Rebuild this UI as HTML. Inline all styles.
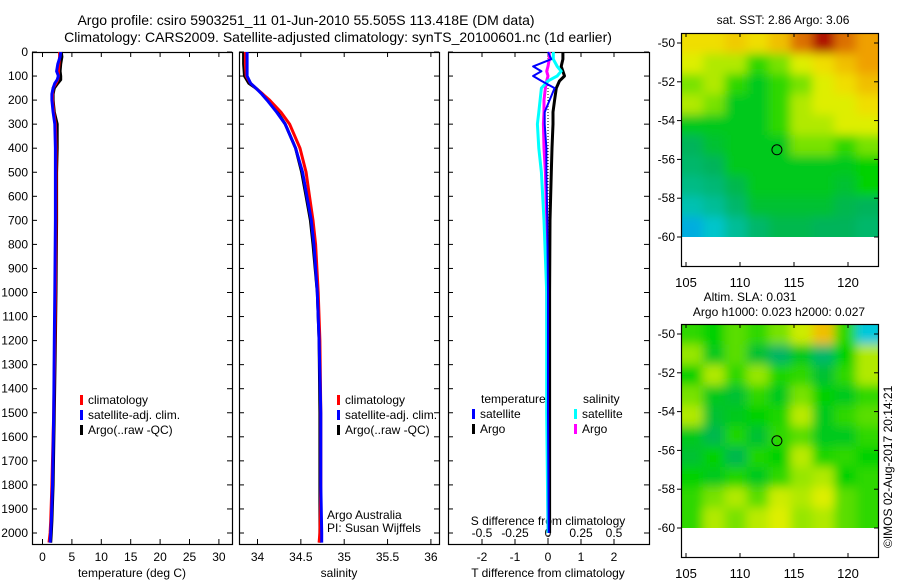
<!DOCTYPE html>
<html><head><meta charset="utf-8"><style>
html,body{margin:0;padding:0;background:#fff;}
svg{display:block;font-family:"Liberation Sans",sans-serif;}
</style></head><body>
<svg id="fig" width="900" height="580" viewBox="0 0 900 580">
<text x="306" y="25" font-size="14" text-anchor="middle">Argo profile: csiro 5903251_11 01-Jun-2010 55.505S 113.418E (DM data)</text>
<text x="338" y="42" font-size="14" text-anchor="middle">Climatology: CARS2009. Satellite-adjusted climatology: synTS_20100601.nc (1d earlier)</text>
<g id="p1"></g>
<g id="p2"></g>
<g id="p3"></g>
<g id="m1"></g>
<g id="m2"></g>
<text x="0" y="0" font-size="12" transform="translate(892,548) rotate(-90)">©IMOS 02-Aug-2017 20:14:21</text>
</svg>
<script>
// ---- data ----
const depthTicks=[0,100,200,300,400,500,600,700,800,900,1000,1100,1200,1300,1400,1500,1600,1700,1800,1900,2000];
const tempTicks=[0,5,10,15,20,25,30];
const salTicks=[34,34.5,35,35.5,36];
const dTTicks=[-2,-1,0,1,2];
const dSTicks=[-0.5,-0.25,0,0.25,0.5];
const tDepths=[0,20,50,80,100,115,130,150,175,200,250,300,400,500,700,1000,1200,1500,1800,1950,2000,2040];
const argoT=[3.2,3.3,3.1,3.0,3.1,3.1,2.6,2.0,1.8,1.8,2.0,2.5,2.5,2.4,2.4,2.3,2.2,2.0,1.8,1.6,1.5,1.4];
const climT=[2.9,2.9,2.8,2.7,2.7,2.6,2.3,1.8,1.7,1.7,1.9,2.2,2.3,2.3,2.3,2.2,2.1,1.9,1.6,1.4,1.3,1.1];
const satT=[3.1,3.0,2.6,2.4,2.7,2.5,2.1,1.8,1.6,1.6,1.8,2.1,2.2,2.2,2.2,2.1,2.0,1.9,1.7,1.5,1.4,1.3];
const sDepths=[0,50,100,130,150,175,200,250,300,400,500,600,700,800,1000,1200,1500,1800,2000,2040];
const argoS=[33.84,33.84,33.85,33.90,33.98,34.06,34.12,34.23,34.32,34.44,34.51,34.56,34.61,34.64,34.69,34.71,34.72,34.72,34.72,34.72];
const climS=[33.86,33.86,33.87,33.92,33.98,34.06,34.14,34.27,34.37,34.49,34.56,34.60,34.64,34.67,34.70,34.72,34.73,34.73,34.72,34.71];
const satS=[33.88,33.88,33.88,33.92,33.98,34.05,34.11,34.22,34.32,34.44,34.52,34.57,34.62,34.65,34.69,34.71,34.73,34.73,34.74,34.74];
const dDepths=[0,30,60,80,100,120,150,200,250,300,400,500,700,1000,1500,2000];
const dTargo=[0.45,0.45,0.4,0.45,0.5,0.35,0.25,0.2,0.15,0.15,0.12,0.1,0.06,0.05,0.05,0.05];
const dTsat=[0.0,0.1,-0.45,-0.2,-0.45,-0.2,0.2,0.05,-0.1,-0.1,-0.05,-0.05,-0.02,0,0,0.02];
const dSsat=[0.04,0.04,0.07,0.1,0.07,0,-0.05,-0.06,-0.07,-0.08,-0.07,-0.05,-0.03,-0.01,-0.01,0];
const dSargo=[0.01,0.01,0.0,-0.01,0.0,-0.01,-0.02,-0.03,-0.03,-0.035,-0.03,-0.02,-0.01,-0.01,-0.005,0];
const lonTicks=[105,110,115,120];
const latTicks=[-50,-52,-54,-56,-58,-60];
const sstGrid=[
[0.65,0.65,0.68,0.65,0.70,0.80,0.92,0.80,0.75],
[0.60,0.55,0.55,0.45,0.50,0.60,0.65,0.70,0.75],
[0.50,0.55,0.45,0.40,0.45,0.50,0.60,0.65,0.70],
[0.55,0.50,0.40,0.40,0.45,0.55,0.60,0.60,0.65],
[0.40,0.40,0.40,0.40,0.45,0.55,0.55,0.60,0.60],
[0.35,0.38,0.40,0.40,0.40,0.50,0.50,0.45,0.50],
[0.33,0.35,0.40,0.40,0.40,0.40,0.40,0.40,0.42],
[0.30,0.32,0.36,0.40,0.40,0.40,0.40,0.38,0.42],
[0.25,0.28,0.33,0.38,0.38,0.38,0.38,0.36,0.35],
[0.15,0.22,0.28,0.33,0.36,0.36,0.35,0.35,0.33]];
const slaGrid=[
[0.45,0.42,0.48,0.45,0.50,0.58,0.70,0.45,0.20],
[0.52,0.40,0.48,0.38,0.34,0.40,0.33,0.42,0.55],
[0.42,0.55,0.45,0.52,0.44,0.45,0.38,0.45,0.55],
[0.50,0.40,0.38,0.45,0.40,0.50,0.42,0.40,0.45],
[0.55,0.38,0.40,0.42,0.44,0.56,0.40,0.45,0.48],
[0.40,0.36,0.44,0.38,0.45,0.48,0.40,0.40,0.45],
[0.38,0.42,0.36,0.44,0.42,0.56,0.44,0.45,0.42],
[0.42,0.40,0.44,0.40,0.45,0.52,0.55,0.42,0.45],
[0.45,0.50,0.55,0.48,0.58,0.55,0.60,0.48,0.45],
[0.45,0.55,0.50,0.56,0.60,0.52,0.55,0.48,0.45]];
const argoLon=113.418, argoLat=-55.505;
const sstTitle="sat. SST: 2.86 Argo: 3.06";

// ---- helpers ----
const NS="http://www.w3.org/2000/svg";
function mk(parent,tag,attrs){const e=document.createElementNS(NS,tag);for(const k in attrs)e.setAttribute(k,attrs[k]);parent.appendChild(e);return e;}
const Y0=52,Y1=544;
const yD=d=>52+d*0.2405;
function frame(g,x0,x1,y0,y1){const r=mk(g,'rect',{x:x0+0.5,y:y0+0.5,width:x1-x0,height:y1-y0,fill:'none',stroke:'#000','stroke-width':1.2});

}
function line(g,xs,ys,color,w,name,dash){const pts=xs.map((x,i)=>x.toFixed(1)+','+ys[i].toFixed(1)).join(' ');
const p=mk(g,'polyline',{points:pts,fill:'none',stroke:color,'stroke-width':w,'stroke-linejoin':'round'});if(dash)p.setAttribute('stroke-dasharray',dash);

}
function txt(g,x,y,s,anchor,name,size){const t=mk(g,'text',{x:x,y:y,'font-size':size||12,'text-anchor':anchor||'start'});t.textContent=s;

return t;}
function depthTicksOn(g,x0,x1,labels){depthTicks.forEach(d=>{const y=yD(d);mk(g,'line',{x1:x0,x2:x0+5,y1:y,y2:y,stroke:'#000'});mk(g,'line',{x1:x1-5,x2:x1,y1:y,y2:y,stroke:'#000'});
if(labels)txt(g,28,y+4,String(d),'end','depth-tick-label');});}
function xTicks(g,ticks,fx,y0,y1,ly,fmt,name){ticks.forEach(v=>{const x=fx(v);mk(g,'line',{x1:x,x2:x,y1:y1,y2:y1-5,stroke:'#000'});mk(g,'line',{x1:x,x2:x,y1:y0,y2:y0+5,stroke:'#000'});
txt(g,x,ly,fmt?fmt(v):String(v),'middle',name);});}
function legend(g,x,y,items){items.forEach((it,i)=>{const r=mk(g,'rect',{x:x,y:y+i*15-9,width:3,height:10,fill:it[1]});


txt(g,x+8,y+i*15,it[0],'start','legend-entry');});}

// ---- panel 1: temperature ----
const p1=document.getElementById('p1');
const xT=t=>42.5+t*5.88;
frame(p1,32,232,Y0,Y1);depthTicksOn(p1,32,232,true);
xTicks(p1,tempTicks,xT,Y0,Y1,561,null,'temp-tick-label');
txt(p1,132,577,'temperature (deg C)','middle','x-axis-title-temperature');
line(p1,argoT.map(xT),tDepths.map(yD),'#000',3,'argo-temperature-line');
line(p1,climT.map(xT),tDepths.map(yD),'#f00',3,'climatology-temperature-line');
line(p1,satT.map(xT),tDepths.map(yD),'#00f',3,'satellite-temperature-line');
legend(p1,80,404,[['climatology','#f00'],['satellite-adj. clim.','#00f'],['Argo(..raw -QC)','#000']]);

// ---- panel 2: salinity ----
const p2=document.getElementById('p2');
const xS=s=>257.5+(s-34)*86.7;
frame(p2,239,439,Y0,Y1);depthTicksOn(p2,239,439,false);
xTicks(p2,salTicks,xS,Y0,Y1,561,null,'salinity-tick-label');
txt(p2,339,577,'salinity','middle','x-axis-title-salinity');
line(p2,argoS.map(xS),sDepths.map(yD),'#000',3,'argo-salinity-line');
line(p2,climS.map(xS),sDepths.map(yD),'#f00',3,'climatology-salinity-line');
line(p2,satS.map(xS),sDepths.map(yD),'#00f',3,'satellite-salinity-line');
legend(p2,337,404,[['climatology','#f00'],['satellite-adj. clim.','#00f'],['Argo(..raw -QC)','#000']]);
txt(p2,327,519,'Argo Australia','start','credit-argo-australia');
txt(p2,327,532,'PI: Susan Wijffels','start','credit-pi');

// ---- panel 3: differences ----
const p3=document.getElementById('p3');
const xdT=t=>548+t*33;
const xdS=s=>548+s*132;
frame(p3,448,649,Y0,Y1);depthTicksOn(p3,448,649,false);
xTicks(p3,dTTicks,xdT,Y0,Y1,561,null,'tdiff-tick-label');
dSTicks.forEach(v=>txt(p3,xdS(v),537,String(v),'middle','sdiff-tick-label'));
txt(p3,548,525,'S difference from climatology','middle','sdiff-axis-title');
txt(p3,548,577,'T difference from climatology','middle','tdiff-axis-title');
line(p3,[xdT(0),xdT(0)],[yD(0),yD(2040)],'#000',1,'zero-line','1,2');
line(p3,dTargo.map(xdT),dDepths.map(yD),'#000',3,'argo-tdiff-line');
line(p3,dSargo.map(xdS),dDepths.map(yD),'#f0f',3,'argo-sdiff-line');
line(p3,dSsat.map(xdS),dDepths.map(yD),'#0ff',3,'satellite-sdiff-line');
line(p3,dTsat.map(xdT),dDepths.map(yD),'#00f',2,'satellite-tdiff-line');
txt(p3,481,403,'temperature','start','legend-title-temperature');
legend(p3,472,418,[['satellite','#00f'],['Argo','#000']]);
txt(p3,583,403,'salinity','start','legend-title-salinity');
legend(p3,574,418,[['satellite','#0ff'],['Argo','#f0f']]);

// ---- maps ----
const stops=[[0,[0,90,230]],[0.2,[0,200,220]],[0.35,[0,180,90]],[0.42,[0,210,0]],[0.52,[150,230,0]],[0.62,[240,240,0]],[0.75,[240,160,0]],[0.9,[180,20,0]],[1,[150,0,0]]];
function cmap(v){for(let i=1;i<stops.length;i++){if(v<=stops[i][0]){const a=stops[i-1],b=stops[i];const f=(v-a[0])/(b[0]-a[0]);
return 'rgb('+a[1].map((c,j)=>Math.round(c+(b[1][j]-c)*f)).join(',')+')';}}return 'rgb(150,0,0)';}
function drawMap(gid,grid,top,titles){
 const g=document.getElementById(gid);
 const fx=lon=>686+(lon-105)*10.8;
 const fy=lat=>top+10+(-50-lat)*19.4;
 const x0=681,x1=878,y0=top,y1=top+233;
 const defs=mk(g,'defs',{});
 const f=mk(defs,'filter',{id:'bl'+gid,filterUnits:'userSpaceOnUse',x:x0-30,y:y0-30,width:x1-x0+60,height:y1-y0+60});
 mk(f,'feGaussianBlur',{stdDeviation:5});
 const cp=mk(defs,'clipPath',{id:'cp'+gid});mk(cp,'rect',{x:x0,y:y0,width:x1-x0,height:fy(-60)-y0});
 const cg=mk(g,'g',{'clip-path':'url(#cp'+gid+')'});
 const inner=mk(cg,'g',{filter:'url(#bl'+gid+')'});
 const rows=grid.length,cols=grid[0].length;
 const cw=(x1-x0)/cols,ch=(fy(-60)-y0)/rows;
 grid.forEach((row,r)=>row.forEach((v,c)=>{
  const rc=mk(inner,'rect',{x:x0+c*cw-(c==0?15:0),y:y0+r*ch-(r==0?15:0),width:cw+1+(c==0||c==cols-1?15:0),height:ch+1+(r==0||r==rows-1?15:0),fill:cmap(v)});
  
  
 }));
 frame(g,x0,x1,y0,y1);
 lonTicks.forEach(l=>{const x=fx(l);mk(g,'line',{x1:x,x2:x,y1:y1,y2:y1-4,stroke:'#000'});mk(g,'line',{x1:x,x2:x,y1:y0,y2:y0+4,stroke:'#000'});txt(g,x,y1+21,String(l),'middle','lon-tick-label',13);});
 latTicks.forEach(l=>{const y=fy(l);mk(g,'line',{x1:x0,x2:x0-4,y1:y,y2:y,stroke:'#000'});mk(g,'line',{x1:x1,x2:x1-4,y1:y,y2:y,stroke:'#000'});txt(g,x0-6,y+4,String(l),'end','lat-tick-label');});
 const c=mk(g,'circle',{cx:fx(argoLon),cy:fy(argoLat),r:5,fill:'none',stroke:'#000','stroke-width':1});
 
 
 titles.forEach((t,i)=>txt(g,t[1],t[2],t[0],'middle','map-title'));
}
drawMap('m1',sstGrid,33,[[sstTitle,783,24]]);
drawMap('m2',slaGrid,324,[['Altim. SLA: 0.031',750,301],['Argo h1000: 0.023 h2000: 0.027',779,316]]);
</script>
</body></html>
